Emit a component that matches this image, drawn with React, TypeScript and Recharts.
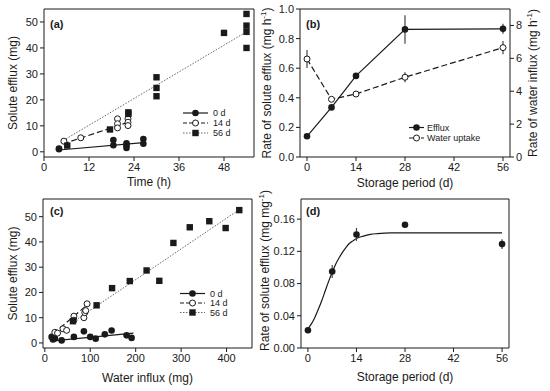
import {
  ComposedChart,
  Line,
  Scatter,
  XAxis,
  YAxis,
  ReferenceArea,
  ErrorBar,
  Label,
} from "recharts";

const FONT = "'Liberation Sans', Arial, Helvetica, sans-serif";
const INK = "#1a1a1a";

// (a) solute efflux vs time, per storage period
const time0 = [4, 4, 18.5, 18.5, 22, 22, 22, 26.5, 26.5];
const efflux0 = [1.0, 1.3, 4.5, 2.5, 3.3, 2.5, 1.5, 4.9, 3.1];
const time14 = [5.3, 9.8, 19.6, 19.6, 19.6, 22.4, 22.4, 22.4];
const efflux14 = [4.1, 5.4, 12.7, 10.8, 9.2, 12.7, 11.4, 10.1];
const time56 = [6.2, 17.6, 22.5, 22.5, 30, 30, 30, 48, 54, 54, 54, 54];
const efflux56 = [2.4, 8.6, 15.2, 14.6, 28.7, 24.6, 21.4, 45.8, 53.1, 48.6, 46.2, 40.0];
// fitted lines (end points)
const fitTime0 = [4, 26.5];
const fitEff0 = [0.7, 3.5];
const fitTime14 = [5, 22.5];
const fitEff14 = [3.0, 11.4];
const fitTime56 = [4.5, 54];
const fitEff56 = [3.8, 46.2];

// (b) rates vs storage period
const storageDays = [0, 7, 14, 28, 56];
const effluxRate = [0.14, 0.335, 0.548, 0.862, 0.866];
const effluxRateErr = [0.01, 0.015, 0.02, 0.096, 0.034];
const waterRate = [5.96, 3.51, 3.83, 4.85, 6.65];
const waterRateErr = [0.55, 0.12, 0.08, 0.3, 0.4];

// (c) solute efflux vs water influx
const water0 = [15, 18, 22, 37, 64, 86, 100, 112, 132, 147, 180, 191];
const effluxC0 = [2.4, 1.4, 1.8, 1.0, 2.4, 4.6, 2.4, 1.7, 3.4, 4.9, 3.0, 2.0];
const water14 = [22, 28, 40, 48, 64, 64, 86, 88, 90, 93];
const effluxC14 = [4.2, 3.9, 5.6, 5.0, 10.6, 9.0, 10.0, 12.0, 12.8, 15.5];
const water56 = [62, 114, 148, 187, 224, 252, 283, 319, 362, 398, 428];
const effluxC56 = [8.6, 14.9, 21.7, 24.5, 28.7, 24.6, 39.6, 45.8, 48.2, 45.5, 52.6];
const fitWater0 = [18, 195];
const fitEffC0 = [0.8, 3.9];
const fitWater14 = [18, 93];
const fitEffC14 = [3.6, 15.0];
const fitWater56 = [62, 428];
const fitEffC56 = [8.3, 52.8];

// (d) rate per water influx vs storage period
const ratioRate = [0.022, 0.095, 0.141, 0.153, 0.129];
const ratioRateErr = [0.003, 0.008, 0.008, 0.003, 0.006];
const curveDays = [0, 1, 2, 3, 4, 5, 6, 7, 8, 9, 10, 11, 12, 13, 14, 16, 18, 20, 24, 28, 56];
const curveRate = [
  0.024, 0.03, 0.038, 0.048, 0.059, 0.071, 0.083, 0.094, 0.104, 0.112, 0.119,
  0.125, 0.13, 0.133, 0.136, 0.139, 0.141, 0.142, 0.143, 0.143, 0.143,
];

const pts = (xs: number[], ys: number[], errs?: number[]) =>
  xs.map((x, i) => ({ x, y: ys[i], err: errs ? errs[i] : 0 }));

const tickStyle = { fontSize: 11, fill: INK, fontFamily: FONT };
const titleStyle = { fontSize: 12, fill: INK, fontFamily: FONT };

const FilledCircle = (p: any) => <circle cx={p.cx} cy={p.cy} r={3.3} fill={INK} />;
const OpenCircle = (p: any) => (
  <circle cx={p.cx} cy={p.cy} r={3} fill="#fff" stroke={INK} strokeWidth={1} />
);
const Square = (p: any) => (
  <rect x={p.cx - 3.2} y={p.cy - 3.2} width={6.4} height={6.4} fill={INK} />
);

function XTitle({ viewBox, text, dy }: any) {
  if (!viewBox) return null;
  return (
    <text x={viewBox.x + viewBox.width / 2} y={viewBox.y + dy} textAnchor="middle" style={titleStyle}>
      {text}
    </text>
  );
}

function YTitle({ viewBox, text, sup, dx, shift = 0 }: any) {
  if (!viewBox) return null;
  const cx = viewBox.x + dx;
  const cy = viewBox.y + viewBox.height / 2 + shift;
  return (
    <text
      x={cx}
      y={cy}
      transform={`rotate(-90 ${cx} ${cy})`}
      textAnchor="middle"
      dominantBaseline="central"
      style={titleStyle}
    >
      {text}
      {sup && (
        <>
          <tspan dy={-4} fontSize={8}>
            {sup}
          </tspan>
          <tspan dy={4}>)</tspan>
        </>
      )}
    </text>
  );
}

const axisCommon = {
  axisLine: false,
  tickSize: 4,
  tickMargin: 2,
  tick: tickStyle,
  tickLine: { stroke: INK },
  allowDataOverflow: true,
};

function PanelA() {
  return (
    <ComposedChart width={275} height={195} margin={{ top: 9, right: 21, bottom: 0, left: 0 }}>
      <XAxis type="number" dataKey="x" domain={[0, 56]} ticks={[0, 12, 24, 36, 48]} height={38} {...axisCommon}>
        <Label content={(p: any) => <XTitle {...p} text="Time (h)" dy={29} />} />
      </XAxis>
      <YAxis type="number" dataKey="y" domain={[-2, 55]} ticks={[0, 10, 20, 30, 40, 50]} width={44} {...axisCommon}>
        <Label content={(p: any) => <YTitle {...p} text="Solute efflux (mg)" dx={13} />} />
      </YAxis>
      <ReferenceArea x1={0} x2={56} y1={-2} y2={55} fill="none" stroke={INK} strokeWidth={1} />
      <Line data={pts(fitTime0, fitEff0)} dataKey="y" stroke={INK} strokeWidth={1.2} dot={false} isAnimationActive={false} />
      <Line data={pts(fitTime14, fitEff14)} dataKey="y" stroke={INK} strokeWidth={1.2} strokeDasharray="6 3" dot={false} isAnimationActive={false} />
      <Line data={pts(fitTime56, fitEff56)} dataKey="y" stroke="#666" strokeWidth={1} strokeDasharray="1.5 1.5" dot={false} isAnimationActive={false} />
      <Scatter data={pts(time0, efflux0)} dataKey="y" shape={FilledCircle} isAnimationActive={false} />
      <Scatter data={pts(time14, efflux14)} dataKey="y" shape={OpenCircle} isAnimationActive={false} />
      <Scatter data={pts(time56, efflux56)} dataKey="y" shape={Square} isAnimationActive={false} />
    </ComposedChart>
  );
}

function PanelB() {
  const data = storageDays.map((day, i) => ({
    day,
    efflux: effluxRate[i],
    effluxErr: effluxRateErr[i],
    water: waterRate[i],
    waterErr: waterRateErr[i],
  }));
  return (
    <ComposedChart width={295} height={195} data={data} margin={{ top: 9, right: 0, bottom: 0, left: 0 }}>
      <XAxis type="number" dataKey="day" domain={[-2, 58]} ticks={[0, 14, 28, 42, 56]} height={38} {...axisCommon}>
        <Label content={(p: any) => <XTitle {...p} text="Storage period (d)" dy={30} />} />
      </XAxis>
      <YAxis yAxisId="left" type="number" domain={[0, 1]} ticks={[0, 0.2, 0.4, 0.6, 0.8, 1]} tickFormatter={(v: number) => v.toFixed(1)} width={45} {...axisCommon}>
        <Label content={(p: any) => <YTitle {...p} text="Rate of solute efflux (mg h" sup="-1" dx={12} />} />
      </YAxis>
      <YAxis yAxisId="right" orientation="right" type="number" domain={[0, 9]} ticks={[0, 2, 4, 6, 8]} width={40} {...axisCommon}>
        <Label content={(p: any) => <YTitle {...p} text="Rate of water influx (mg h" sup="-1" dx={23} />} />
      </YAxis>
      <ReferenceArea yAxisId="left" x1={-2} x2={58} y1={0} y2={1} fill="none" stroke={INK} strokeWidth={1} />
      <Line
        yAxisId="right"
        dataKey="water"
        stroke={INK}
        strokeWidth={1.2}
        strokeDasharray="6 3"
        isAnimationActive={false}
        dot={(p: any) => <circle key={`w${p.index}`} cx={p.cx} cy={p.cy} r={3} fill="#fff" stroke={INK} strokeWidth={1} />}
      >
        <ErrorBar dataKey="waterErr" width={0} stroke="#444" strokeWidth={1.2} />
      </Line>
      <Line
        yAxisId="left"
        dataKey="efflux"
        stroke={INK}
        strokeWidth={1.2}
        isAnimationActive={false}
        dot={(p: any) => <circle key={`e${p.index}`} cx={p.cx} cy={p.cy} r={3.3} fill={INK} />}
      >
        <ErrorBar dataKey="effluxErr" width={0} stroke="#444" strokeWidth={1.2} />
      </Line>
    </ComposedChart>
  );
}

function PanelC() {
  return (
    <ComposedChart width={275} height={196} margin={{ top: 4, right: 23, bottom: 0, left: 0 }}>
      <XAxis type="number" dataKey="x" domain={[-4, 456]} ticks={[0, 100, 200, 300, 400]} height={43} {...axisCommon}>
        <Label content={(p: any) => <XTitle {...p} text="Water influx (mg)" dy={34} />} />
      </XAxis>
      <YAxis type="number" dataKey="y" domain={[-2, 57]} ticks={[0, 10, 20, 30, 40, 50]} width={43} {...axisCommon}>
        <Label content={(p: any) => <YTitle {...p} text="Solute efflux (mg)" dx={13} />} />
      </YAxis>
      <ReferenceArea x1={-4} x2={456} y1={-2} y2={57} fill="none" stroke={INK} strokeWidth={1} />
      <Line data={pts(fitWater0, fitEffC0)} dataKey="y" stroke={INK} strokeWidth={1.2} dot={false} isAnimationActive={false} />
      <Line data={pts(fitWater14, fitEffC14)} dataKey="y" stroke={INK} strokeWidth={1.2} strokeDasharray="6 3" dot={false} isAnimationActive={false} />
      <Line data={pts(fitWater56, fitEffC56)} dataKey="y" stroke="#666" strokeWidth={1} strokeDasharray="1.5 1.5" dot={false} isAnimationActive={false} />
      <Scatter data={pts(water0, effluxC0)} dataKey="y" shape={FilledCircle} isAnimationActive={false} />
      <Scatter data={pts(water14, effluxC14)} dataKey="y" shape={OpenCircle} isAnimationActive={false} />
      <Scatter data={pts(water56, effluxC56)} dataKey="y" shape={Square} isAnimationActive={false} />
    </ComposedChart>
  );
}

function PanelD() {
  // chart starts 12px above the panel so the rotated title is not clipped
  return (
    <ComposedChart width={295} height={208} margin={{ top: 16, right: 41, bottom: 0, left: 0 }}>
      <XAxis type="number" dataKey="x" domain={[-2, 58]} ticks={[0, 14, 28, 42, 56]} height={43} {...axisCommon}>
        <Label content={(p: any) => <XTitle {...p} text="Storage period (d)" dy={33} />} />
      </XAxis>
      <YAxis type="number" dataKey="y" domain={[0, 0.185]} ticks={[0, 0.04, 0.08, 0.12, 0.16]} tickFormatter={(v: number) => v.toFixed(2)} width={46} {...axisCommon}>
        <Label content={(p: any) => <YTitle {...p} text="Rate of solute efflux (mg mg" sup="-1" dx={10} shift={-3} />} />
      </YAxis>
      <ReferenceArea x1={-2} x2={58} y1={0} y2={0.185} fill="none" stroke={INK} strokeWidth={1} />
      <Line data={pts(curveDays, curveRate)} dataKey="y" type="monotone" stroke={INK} strokeWidth={1.2} dot={false} isAnimationActive={false} />
      <Scatter data={pts(storageDays, ratioRate, ratioRateErr)} dataKey="y" shape={FilledCircle} isAnimationActive={false}>
        <ErrorBar dataKey="err" direction="y" width={0} stroke="#444" strokeWidth={1.2} />
      </Scatter>
    </ComposedChart>
  );
}

// legend + panel letters drawn on top of the charts
const legendNames = ["0 d", "14 d", "56 d"];
const legendDash = [undefined, "4 2", "1.5 1.5"];
const legendText = { fontSize: 9, fill: INK, fontFamily: FONT };

function SeriesLegend({ x, ys }: { x: number; ys: number[] }) {
  const markers = [FilledCircle, OpenCircle, Square];
  return (
    <g>
      {legendNames.map((name, i) => {
        const M = markers[i];
        return (
          <g key={name}>
            <line x1={x} x2={x + 25} y1={ys[i]} y2={ys[i]} stroke={i === 2 ? "#666" : INK} strokeWidth={1.2} strokeDasharray={legendDash[i]} />
            <M cx={x + 12.5} cy={ys[i]} />
            <text x={x + 30} y={ys[i]} dominantBaseline="central" style={legendText}>
              {name}
            </text>
          </g>
        );
      })}
    </g>
  );
}

function Overlay() {
  const letter = { fontSize: 11, fontWeight: 700, fill: INK, fontFamily: FONT } as const;
  return (
    <svg width={550} height={391} style={{ position: "absolute", left: 0, top: 0, pointerEvents: "none" }}>
      <text x={50} y={28} style={letter}>(a)</text>
      <text x={306} y={28} style={letter}>(b)</text>
      <text x={50} y={215} style={letter}>(c)</text>
      <text x={306} y={215} style={letter}>(d)</text>
      <SeriesLegend x={183} ys={[113, 123, 133]} />
      <SeriesLegend x={180} ys={[293.5, 303, 312.5]} />
      <line x1={409} x2={424} y1={127.5} y2={127.5} stroke={INK} strokeWidth={1.2} />
      <FilledCircle cx={416.5} cy={127.5} />
      <text x={427} y={127.5} dominantBaseline="central" style={legendText}>Efflux</text>
      <line x1={409} x2={424} y1={138} y2={138} stroke={INK} strokeWidth={1.2} strokeDasharray="4 2" />
      <OpenCircle cx={416.5} cy={138} />
      <text x={427} y={138} dominantBaseline="central" style={legendText}>Water uptake</text>
    </svg>
  );
}

export default function App() {
  return (
    <div style={{ position: "fixed", left: 0, top: 0, width: 550, height: 391, background: "#fff" }}>
      <div style={{ position: "absolute", left: 0, top: 0 }}>
        <PanelA />
      </div>
      <div style={{ position: "absolute", left: 255, top: 0 }}>
        <PanelB />
      </div>
      <div style={{ position: "absolute", left: 0, top: 195 }}>
        <PanelC />
      </div>
      <div style={{ position: "absolute", left: 255, top: 183 }}>
        <PanelD />
      </div>
      <Overlay />
    </div>
  );
}
